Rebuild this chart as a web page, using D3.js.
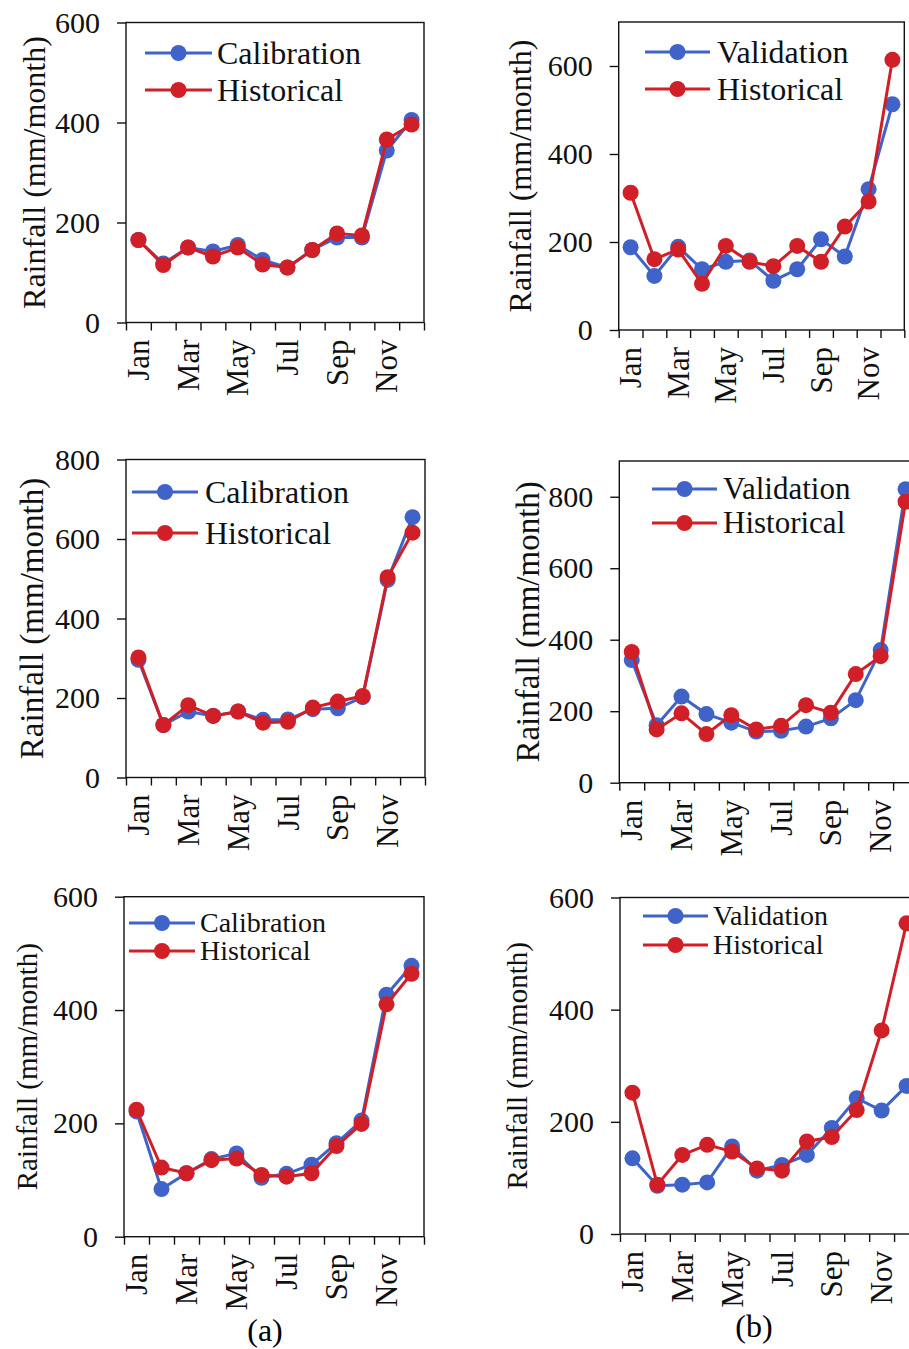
<!DOCTYPE html>
<html>
<head>
<meta charset="utf-8">
<script src="https://cdn.jsdelivr.net/npm/d3@7"></script>
</head>
<body style="margin:0">
<svg id="chart" width="909" height="1349"></svg>
<script>
const months = ['Jan', 'Feb', 'Mar', 'Apr', 'May', 'Jun', 'Jul', 'Aug', 'Sep', 'Oct', 'Nov', 'Dec'];
const monthLabels = ['Jan', 'Mar', 'May', 'Jul', 'Sep', 'Nov'];

// (a) top / (b) top
const calibA1 = [165, 118, 150, 142, 155, 125, 110, 145, 170, 170, 344, 405];
const histA1  = [165, 115, 150, 132, 150, 116, 110, 145, 178, 174, 366, 396];
const validB1 = [188, 123, 189, 138, 155, 158, 112, 138, 206, 167, 320, 513];
const histB1  = [312, 161, 183, 105, 191, 155, 145, 191, 155, 235, 292, 614];
// middle row
const calibA2 = [296, 132, 166, 155, 166, 145, 146, 172, 174, 202, 497, 655];
const histA2  = [302, 132, 182, 155, 166, 138, 140, 176, 191, 205, 504, 616];
const validB2 = [343, 161, 241, 192, 168, 143, 145, 157, 180, 231, 371, 821];
const histB2  = [366, 149, 194, 136, 189, 149, 159, 217, 196, 304, 354, 786];
// bottom row
const calibA3 = [221, 84, 112, 137, 147, 104, 111, 127, 165, 205, 427, 478];
const histA3  = [224, 122, 112, 135, 138, 109, 106, 112, 160, 199, 410, 464];
const validB3 = [135, 86, 88, 92, 156, 113, 123, 141, 189, 242, 220, 264];
const histB3  = [252, 88, 141, 159, 147, 117, 113, 165, 173, 221, 363, 554];

const ticks600 = [0, 200, 400, 600];
const ticks800 = [0, 200, 400, 600, 800];

const blue = '#3f63c8';
const red = '#d01f26';
const FONT = '"Liberation Serif"';

const panels = [
  { name: 'Calibration', a: calibA1, b: histA1, yMax: 600, ticks: ticks600,
    box: [126, 424, 22.5, 322.5], titleX: 45, titleFs: 32,
    leg: { x1: 145, x2: 212, y1: 53, y2: 90, tx: 217, fs: 32 } },
  { name: 'Validation', a: validB1, b: histB1, yMax: 700, ticks: ticks600,
    box: [618.7, 904.3, 22, 330], titleX: 531, titleFs: 32,
    leg: { x1: 645, x2: 710, y1: 52, y2: 89, tx: 717, fs: 32 } },
  { name: 'Calibration', a: calibA2, b: histA2, yMax: 800, ticks: ticks800,
    box: [126, 425, 459.5, 777.5], titleX: 43, titleFs: 33,
    leg: { x1: 132, x2: 198, y1: 492, y2: 533, tx: 205, fs: 32 } },
  { name: 'Validation', a: validB2, b: histB2, yMax: 900, ticks: ticks800,
    box: [619.3, 918, 461, 782.7], titleX: 539, titleFs: 33,
    leg: { x1: 652, x2: 717, y1: 489, y2: 523, tx: 723, fs: 31 } },
  { name: 'Calibration', a: calibA3, b: histA3, yMax: 600, ticks: ticks600,
    box: [124, 424, 896.7, 1236.7], titleX: 37, titleFs: 29,
    leg: { x1: 129, x2: 195, y1: 923, y2: 951, tx: 200, fs: 28 } },
  { name: 'Validation', a: validB3, b: histB3, yMax: 600, ticks: ticks600,
    box: [620, 919, 897.5, 1234], titleX: 527, titleFs: 29,
    leg: { x1: 643, x2: 708, y1: 916, y2: 945, tx: 713, fs: 28 } }
];

const svg = d3.select('#chart').attr('font-family', 'Liberation Serif');

panels.forEach(p => {
  const [left, right, top, bottom] = p.box;
  const g = svg.append('g');

  const x = d3.scaleBand().domain(months).range([left, right]);
  const xb = d3.scaleLinear().domain([0, months.length]).range([left, right]);
  const y = d3.scaleLinear().domain([0, p.yMax]).range([bottom, top]);
  const cx = m => x(m) + x.bandwidth() / 2;

  // frame
  g.append('rect')
    .attr('x', left).attr('y', top)
    .attr('width', right - left).attr('height', bottom - top)
    .attr('fill', 'none').attr('stroke', '#111').attr('stroke-width', 1.4);

  // y axis
  const yAxis = g.append('g')
    .attr('transform', `translate(${left},0)`)
    .call(d3.axisLeft(y).tickValues(p.ticks).tickSize(9).tickPadding(17))
    .attr('font-family', null)
    .attr('font-size', null);
  yAxis.select('.domain').remove();
  yAxis.selectAll('line').attr('stroke', '#111').attr('stroke-width', 1.4);
  yAxis.selectAll('text')
    .style('font-family', FONT)
    .style('font-size', '30px')
    .attr('fill', '#111');

  // x axis ticks at month boundaries
  const xAxis = g.append('g')
    .attr('transform', `translate(0,${bottom})`)
    .call(d3.axisBottom(xb).tickValues(d3.range(months.length + 1)).tickSize(8).tickFormat(''));
  xAxis.select('.domain').remove();
  xAxis.selectAll('line').attr('stroke', '#111').attr('stroke-width', 1.4);

  // month labels
  g.selectAll('.month')
    .data(monthLabels)
    .enter()
    .append('text')
    .attr('class', 'month')
    .attr('transform', d => `translate(${cx(d)},${bottom + 17}) rotate(-90)`)
    .attr('text-anchor', 'end')
    .attr('dy', '0.34em')
    .style('font-family', FONT)
    .style('font-size', '31px')
    .attr('fill', '#111')
    .text(d => d);

  // y title
  g.append('text')
    .attr('transform', `translate(${p.titleX},${(top + bottom) / 2}) rotate(-90)`)
    .attr('text-anchor', 'middle')
    .style('font-family', FONT)
    .style('font-size', p.titleFs + 'px')
    .attr('fill', '#111')
    .text('Rainfall (mm/month)');

  // series
  const line = d3.line().x((d, i) => cx(months[i])).y(d => y(d));
  [[p.a, blue], [p.b, red]].forEach(([vals, col]) => {
    g.append('path')
      .datum(vals)
      .attr('d', line)
      .attr('fill', 'none')
      .attr('stroke', col)
      .attr('stroke-width', 3);
    g.selectAll(null)
      .data(vals)
      .enter()
      .append('circle')
      .attr('cx', (d, i) => cx(months[i]))
      .attr('cy', d => y(d))
      .attr('r', 8)
      .attr('fill', col);
  });

  // legend
  const L = p.leg;
  [[p.name, blue, L.y1], ['Historical', red, L.y2]].forEach(([label, col, ly]) => {
    g.append('line')
      .attr('x1', L.x1).attr('x2', L.x2)
      .attr('y1', ly).attr('y2', ly)
      .attr('stroke', col).attr('stroke-width', 3);
    g.append('circle')
      .attr('cx', (L.x1 + L.x2) / 2).attr('cy', ly)
      .attr('r', 8).attr('fill', col);
    g.append('text')
      .attr('x', L.tx).attr('y', ly)
      .attr('dy', '0.33em')
      .style('font-family', FONT)
      .style('font-size', L.fs + 'px')
      .attr('fill', '#111')
      .text(label);
  });
});

// panel captions
svg.append('text')
  .attr('x', 265).attr('y', 1341)
  .attr('text-anchor', 'middle')
  .style('font-family', FONT)
  .style('font-size', '32px')
  .text('(a)');
svg.append('text')
  .attr('x', 754).attr('y', 1337)
  .attr('text-anchor', 'middle')
  .style('font-family', FONT)
  .style('font-size', '32px')
  .text('(b)');
</script>
</body>
</html>
